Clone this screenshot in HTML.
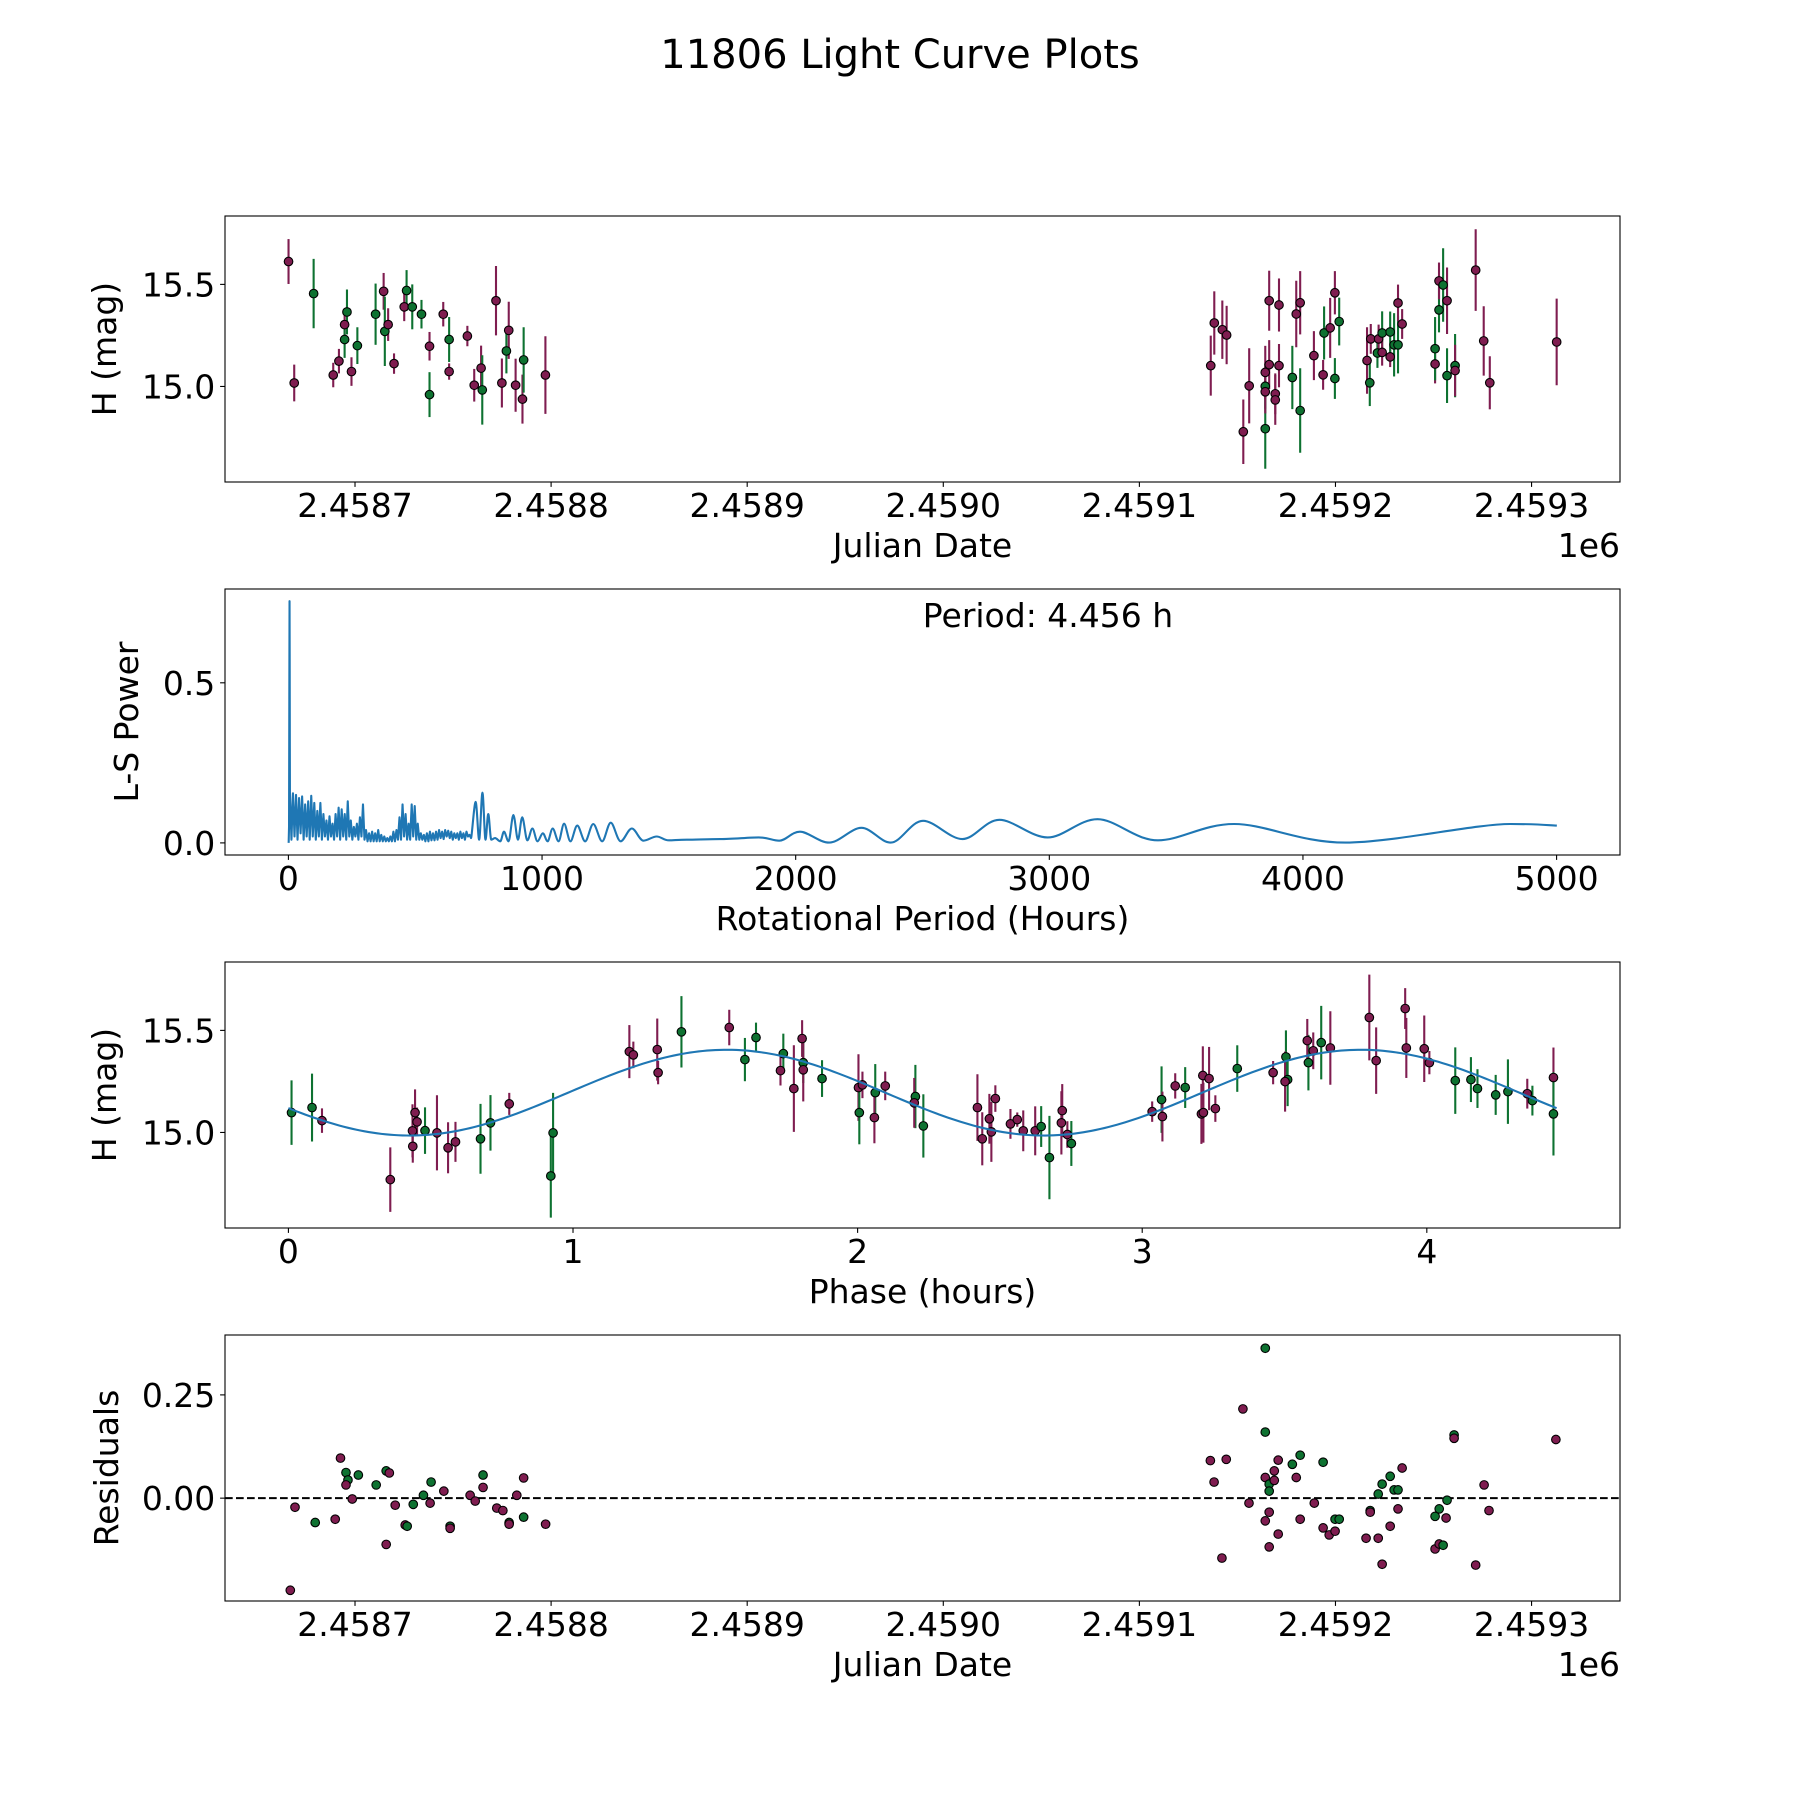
<!DOCTYPE html>
<html><head><meta charset="utf-8"><title>11806 Light Curve Plots</title>
<style>
html,body{margin:0;padding:0;background:#fff;}
svg{display:block;font-family:"DejaVu Sans","Liberation Sans",sans-serif;}
</style></head>
<body>
<svg id="fig" xmlns="http://www.w3.org/2000/svg" width="1800" height="1800" viewBox="0 0 1800 1800">
<rect x="0" y="0" width="1800" height="1800" fill="#fff"/>
<text x="900" y="68" font-size="40" text-anchor="middle" fill="#000">11806 Light Curve Plots</text>
<g id="p1"></g>
<g id="p2"></g>
<g id="p3"></g>
<g id="p4"></g>
</svg>
<script>
// ---- Panel 1: light curve (days = JD - 2458600) ----
const lcDays = [66.1,69.0,78.9,88.9,91.8,94.7,94.7,95.9,98.2,101.2,110.5,114.6,115.2,116.9,119.9,125.1,126.3,129.2,133.9,138.0,138.0,145.0,148.0,148.0,157.3,160.8,164.3,164.9,171.9,174.9,177.2,178.4,181.9,185.4,186.0,197.1,
536.4,538.2,542.3,544.5,553.0,556.0,564.2,564.2,564.2,564.2,566.2,566.2,569.3,569.3,571.2,571.2,578.0,580.0,582.0,582.0,589.0,593.7,594.2,597.3,599.7,599.7,601.9,616.1,617.5,618.0,621.4,622.0,623.8,623.8,627.9,627.9,629.9,631.9,631.9,634.0,650.8,650.8,652.8,652.8,654.9,656.9,656.9,661.0,661.0,671.5,675.6,678.7,712.8];
const lcMag = [15.612,15.017,15.455,15.056,15.124,15.303,15.23,15.365,15.073,15.20,15.354,15.466,15.27,15.303,15.112,15.39,15.47,15.39,15.354,15.197,14.96,15.354,15.23,15.073,15.247,15.006,15.09,14.983,15.42,15.017,15.174,15.275,15.006,14.938,15.13,15.056,
15.102,15.311,15.278,15.252,14.778,15.003,14.793,15.001,14.974,15.069,15.107,15.42,14.964,14.934,15.102,15.399,15.044,15.355,15.41,14.882,15.151,15.057,15.262,15.287,15.459,15.039,15.318,15.127,15.018,15.233,15.164,15.233,15.262,15.167,15.145,15.267,15.204,15.204,15.409,15.306,15.11,15.185,15.375,15.517,15.497,15.42,15.053,15.102,15.078,15.57,15.223,15.018,15.218];
const lcErr = [.11,.09,.17,.06,.06,.07,.09,.11,.07,.09,.15,.09,.17,.08,.05,.07,.10,.11,.07,.07,.11,.06,.11,.04,.05,.08,.11,.17,.17,.12,.11,.14,.13,.12,.16,.19,
.147,.155,.143,.143,.158,.184,.196,.11,.106,.13,.12,.147,.1,.122,.106,.13,.155,.163,.155,.207,.12,.073,.13,.147,.106,.1,.117,.163,.114,.073,.073,.07,.106,.065,.05,.1,.155,.14,.09,.073,.095,.155,.11,.09,.18,.163,.134,.155,.126,.2,.17,.13,.212];
const lcBand = ["m","m","g","m","m","m","g","g","m","g","g","m","g","m","m","m","g","g","g","m","g","m","g","m","m","m","m","g","m","m","g","m","m","m","g","m",
"m","m","m","m","m","m","g","g","m","m","m","m","m","m","m","m","g","m","m","g","m","m","g","m","m","g","g","m","g","m","g","m","g","m","m","g","g","g","m","m","m","g","g","m","g","m","g","g","m","m","m","m","m"];

// ---- Panel 2: Lomb-Scargle periodogram ----
const spikePeriods = [1.0,2.5,3.6,4.456,5.0,5.6,6.0];
const spikePowers = [0.0,0.05,0.45,0.755,0.58,0.3,0.16];
const noisyStart = 6, noisyStep = 6;
const noisyPowers = [.16,.01,.155,.02,.15,.01,.14,.03,.145,.01,.12,.02,.13,.01,.147,.02,.125,.01,.1,.02,.125,.01,.09,.02,.07,.01,.083,.02,.06,.01,.09,.02,.11,.01,.105,.02,.09,.01,.13,.02,.07,.01,.05,.02,.06,.01,.08,.02,.12,.01,.04,.005,.03,.005,.035,.005,.03,.005,.04,.005,.025,.005,.02,.005,.015,.005,.02,.005,.035,.005,.04,.01,.08,.01,.12,.02,.09,.01,.06,.01,.12,.02,.115,.01,.06,.01,.03,.01,.025,.005,.03,.005,.035,.008,.03,.008,.035,.01,.04,.015,.035,.012,.04,.02,.038,.015,.035,.01,.03,.015,.03,.01,.035,.015,.03,.01,.035,.02,.025,.015];
const smoothPeriods = [720,738,752,765,777,788,800,815,835,850,868,887,905,922,942,962,982,1003,1022,1042,1065,1087,1112,1139,1170,1202,1237,1271,1310,1354,1400,1452,1500,1571,1703,1854,1935,2017,2132,2259,2375,2502,2657,2803,2993,3190,3428,3729,4168,4817,5001];
const smoothPowers = [.015,.128,.01,.157,.01,.09,.01,.015,.005,.035,.005,.087,.01,.08,.008,.045,.005,.03,.005,.045,.005,.06,.005,.054,.005,.059,.005,.063,.005,.045,.007,.02,.008,.01,.012,.017,.007,.035,.001,.047,.001,.069,.012,.072,.017,.074,.008,.059,.001,.059,.054];
const bestPeriod = 4.456;

// ---- Panel 3: phase-folded ----
const phPhase = [.011,.083,.118,.358,.437,.436,.445,.452,.48,.522,.561,.587,.675,.71,.776,.922,.93,1.198,1.212,1.296,1.299,1.381,1.549,1.604,1.643,1.729,1.739,1.776,1.805,1.809,1.809,1.875,
2.003,2.017,2.006,2.062,2.059,2.097,2.203,2.199,2.231,2.421,2.438,2.463,2.47,2.484,2.537,2.561,2.582,2.624,2.645,2.674,2.719,2.716,2.737,2.751,
3.035,3.068,3.071,3.116,3.151,3.208,3.215,3.213,3.235,3.257,3.334,3.46,3.505,3.511,3.502,3.584,3.58,3.601,3.629,3.661,3.798,3.822,3.924,3.928,3.991,4.009,4.1,4.155,4.178,4.242,4.285,4.353,4.371,4.445,4.445];
const phMag = [15.097,15.122,15.058,14.769,14.932,15.008,15.097,15.052,15.009,14.998,14.925,14.954,14.969,15.047,15.14,14.787,14.998,15.396,15.38,15.406,15.293,15.493,15.514,15.357,15.465,15.303,15.386,15.215,15.46,15.342,15.307,15.264,
15.22,15.233,15.097,15.195,15.073,15.228,15.176,15.145,15.032,15.122,14.969,15.067,15.003,15.166,15.042,15.063,15.008,15.008,15.029,14.877,15.107,15.047,14.99,14.946,
15.102,15.161,15.078,15.228,15.22,15.091,15.097,15.279,15.264,15.117,15.313,15.293,15.37,15.259,15.249,15.342,15.45,15.4,15.44,15.414,15.563,15.352,15.607,15.414,15.41,15.342,15.254,15.259,15.215,15.184,15.2,15.19,15.156,15.269,15.091];
const phErr = [.158,.166,.06,.158,.08,.13,.114,.07,.114,.184,.125,.098,.171,.136,.054,.204,.196,.13,.065,.152,.057,.175,.087,.106,.073,.073,.098,.212,.09,.1,.155,.09,
.163,.065,.155,.14,.126,.07,.155,.122,.155,.163,.13,.122,.147,.065,.073,.035,.1,.12,.1,.204,.13,.155,.065,.11,
.05,.163,.122,.062,.1,.147,.147,.143,.155,.065,.114,.057,.13,.13,.147,.136,.106,.09,.18,.18,.21,.163,.1,.147,.163,.057,.163,.11,.095,.098,.158,.073,.073,.147,.204];
const phBand = ["g","g","m","m","m","m","m","m","g","m","m","m","g","g","m","g","g","m","m","m","m","g","m","g","g","m","g","m","m","g","m","g",
"m","m","g","g","m","m","g","m","g","m","m","m","m","m","m","m","m","m","g","g","m","m","m","g",
"m","g","m","m","g","m","m","m","m","m","g","m","g","g","m","g","m","m","g","m","m","m","m","m","m","m","g","g","g","g","g","m","g","m","g"];
const fitMean = 15.195, fitAmp = 0.21, fitPeakPhase = 1.54;

// ---- Panel 4: residuals ----
const resDays = [67,69.4,79.7,89.9,92.6,95.4,96.4,95.4,98.6,101.7,110.8,115.9,117.5,115.9,120.5,125.6,126.6,129.7,134.9,138.3,138.8,145.3,148.5,148.5,158.7,161.3,165.3,165.3,172.3,175.4,178.6,178.6,182.5,186,186,197.2,
536.2,538.1,544.3,542.1,552.8,555.9,564.2,564.2,564.2,566.2,566.2,568.8,568.8,570.8,566.2,564.2,570.8,566.2,578,582,580,582,589.2,593.7,593.7,596.8,599.8,599.8,601.9,615.6,617.7,617.7,621.8,621.8,623.8,623.8,627.9,627.9,629.9,631.9,631.9,634,650.8,650.8,652.9,652.9,654.9,656.9,656.4,660.5,660.5,671.5,675.8,678.3,712.4];
const resVal = [-.223,-.022,-.059,-.051,.097,.062,.044,.032,-.002,.056,.032,.066,.061,-.112,-.017,-.065,-.068,-.015,.007,-.012,.039,.017,-.068,-.073,.007,-.007,.056,.026,-.024,-.03,-.059,-.063,.007,.049,-.046,-.063,
.091,.039,.094,-.145,.216,-.012,.363,.16,.05,.034,.017,.066,.043,.092,-.034,-.055,-.087,-.118,.082,.104,.05,-.051,-.012,.087,-.072,-.089,-.08,-.051,-.051,-.097,-.03,-.034,.01,-.097,.034,-.16,.053,-.068,.02,.02,-.026,.073,-.044,-.123,-.026,-.111,-.114,-.005,-.048,.153,.145,-.162,.032,-.03,.142];
const resBand = ["m","m","g","m","m","g","g","m","m","g","g","g","m","m","m","m","g","g","g","m","g","m","g","m","m","m","g","m","m","m","g","m","m","m","g","m",
"m","m","m","m","m","m","g","g","m","g","g","m","m","m","m","m","m","m","g","g","m","m","m","g","m","m","m","g","g","m","g","m","g","m","g","m","g","m","g","g","m","m","g","m","g","m","g","g","m","g","m","m","m","m","m"];

const xTickJD = [100,200,300,400,500,600,700];
const xTickJDLabels = ["2.4587","2.4588","2.4589","2.4590","2.4591","2.4592","2.4593"];
const magTicks = [15.0,15.5];
const magTickLabels = ["15.0","15.5"];
const periodTicks = [0,1000,2000,3000,4000,5000];
const powerTicks = [0.0,0.5];
const powerTickLabels = ["0.0","0.5"];
const phaseTicks = [0,1,2,3,4];
const resTicks = [0.0,0.25];
const resTickLabels = ["0.00","0.25"];

const NS = "http://www.w3.org/2000/svg";
const COL = {m:"#7f1d50", g:"#0e7231"};
const L = 225, R = 1620;
function mk(parent, tag, attrs){
  const e = document.createElementNS(NS, tag);
  for (const k in attrs) e.setAttribute(k, attrs[k]);
  parent.appendChild(e);
  return e;
}
function scale(d0,d1,p0,p1){ return v => p0 + (v-d0)/(d1-d0)*(p1-p0); }

function axes(g, top, bot, sx, sy, xt, xl, yt, yl, xlabel, ylabel, ylabelX, offsetText){
  const fr = mk(g,"rect",{x:L,y:top,width:R-L,height:bot-top,fill:"none",stroke:"#000","stroke-width":1.1});
  
  
  xt.forEach((v,i)=>{
    const x = sx(v);
    const t = mk(g,"line",{x1:x,x2:x,y1:bot,y2:bot+4.9,stroke:"#000","stroke-width":1.1});
    
    
    const tx = mk(g,"text",{x:x,y:bot+35,"font-size":33,"text-anchor":"middle",fill:"#000"});
    tx.textContent = xl[i];
    
    
  });
  yt.forEach((v,i)=>{
    const y = sy(v);
    const t = mk(g,"line",{x1:L-4.9,x2:L,y1:y,y2:y,stroke:"#000","stroke-width":1.1});
    
    
    const tx = mk(g,"text",{x:L-9.7,y:y+12,"font-size":33,"text-anchor":"end",fill:"#000"});
    tx.textContent = yl[i];
    
    
  });
  const xl2 = mk(g,"text",{x:(L+R)/2,y:bot+75,"font-size":33,"text-anchor":"middle",fill:"#000"});
  xl2.textContent = xlabel;
  
  
  const cy = (top+bot)/2;
  const yl2 = mk(g,"text",{x:ylabelX,y:cy,"font-size":33,"text-anchor":"middle",fill:"#000",transform:`rotate(-90 ${ylabelX} ${cy})`});
  yl2.textContent = ylabel;
  
  
  if (offsetText){
    const ot = mk(g,"text",{x:R,y:bot+75,"font-size":33,"text-anchor":"end",fill:"#000"});
    ot.textContent = offsetText;
    
    
  }
}

function errPoints(g, xs, ys, es, bands, sx, sy){
  xs.forEach((xv,i)=>{
    const x = sx(xv), c = COL[bands[i]];
    if (es){
      const b = mk(g,"line",{x1:x,x2:x,y1:sy(ys[i]-es[i]),y2:sy(ys[i]+es[i]),stroke:c,"stroke-width":2.1});
      
      
    }
  });
  xs.forEach((xv,i)=>{
    const p = mk(g,"circle",{cx:sx(xv),cy:sy(ys[i]),r:4.3,fill:COL[bands[i]],stroke:"#000","stroke-width":1.1});
    
    
  });
}

// Panel 1
(function(){
  const g = document.getElementById("p1");
  const sx = scale(33.7,745.1,L,R), sy = scale(14.532,15.835,482,216);
  axes(g,216,482,sx,sy,xTickJD,xTickJDLabels,magTicks,magTickLabels,"Julian Date","H (mag)",116,"1e6");
  errPoints(g,lcDays,lcMag,lcErr,lcBand,sx,sy);
})();

// Panel 2
(function(){
  const g = document.getElementById("p2");
  const sx = scale(-250,5250,L,R), sy = scale(-0.0378,0.793,855,589);
  axes(g,589,855,sx,sy,periodTicks,periodTicks.map(String),powerTicks,powerTickLabels,"Rotational Period (Hours)","L-S Power",138,null);
  let pts = [];
  spikePeriods.forEach((p,i)=>pts.push([sx(p),sy(spikePowers[i])]));
  noisyPowers.forEach((v,i)=>pts.push([sx(noisyStart+i*noisyStep),sy(v)]));
  let d = "M"+pts.map(p=>p[0].toFixed(2)+","+p[1].toFixed(2)).join(" L");
  const sp = smoothPeriods.map((p,i)=>[sx(p),sy(smoothPowers[i])]);
  for (let i=0;i<sp.length-1;i++){
    const p0 = sp[Math.max(0,i-1)], p1 = sp[i], p2 = sp[i+1], p3 = sp[Math.min(sp.length-1,i+2)];
    const c1x = p1[0]+(p2[0]-p0[0])/6, c2x = p2[0]-(p3[0]-p1[0])/6;
    const c1y = p1[1], c2y = p2[1];
    d += ` ${i===0?"L"+p1[0].toFixed(2)+","+p1[1].toFixed(2):""} C${c1x.toFixed(2)},${c1y.toFixed(2)} ${c2x.toFixed(2)},${c2y.toFixed(2)} ${p2[0].toFixed(2)},${p2[1].toFixed(2)}`;
  }
  const path = mk(g,"path",{d:d,fill:"none",stroke:"#1f77b4","stroke-width":2.1,"stroke-linejoin":"round"});
  
  
  const t = mk(g,"text",{x:1048,y:627,"font-size":33,"text-anchor":"middle",fill:"#000"});
  t.textContent = "Period: " + bestPeriod.toFixed(3) + " h";
  
  
})();

// Panel 3
(function(){
  const g = document.getElementById("p3");
  const sx = scale(-0.2228,4.6788,L,R), sy = scale(14.532,15.835,1228,962);
  axes(g,962,1228,sx,sy,phaseTicks,phaseTicks.map(String),magTicks,magTickLabels,"Phase (hours)","H (mag)",116,null);
  errPoints(g,phPhase,phMag,phErr,phBand,sx,sy);
  let d = "";
  for (let k=0;k<=300;k++){
    const ph = bestPeriod*k/300;
    const m = fitMean + fitAmp*Math.cos(4*Math.PI*(ph-fitPeakPhase)/bestPeriod);
    d += (k?" L":"M")+sx(ph).toFixed(2)+","+sy(m).toFixed(2);
  }
  const fit = mk(g,"path",{d:d,fill:"none",stroke:"#1f77b4","stroke-width":2.1});
  
  
})();

// Panel 4
(function(){
  const g = document.getElementById("p4");
  const sx = scale(33.7,745.1,L,R), sy = scale(-0.249,0.395,1601,1335);
  axes(g,1335,1601,sx,sy,xTickJD,xTickJDLabels,resTicks,resTickLabels,"Julian Date","Residuals",118,"1e6");
  const z = mk(g,"line",{x1:L,x2:R,y1:sy(0),y2:sy(0),stroke:"#000","stroke-width":2,"stroke-dasharray":"7.7 3.3"});
  
  
  errPoints(g,resDays,resVal,null,resBand,sx,sy);
})();
</script>
</body></html>
